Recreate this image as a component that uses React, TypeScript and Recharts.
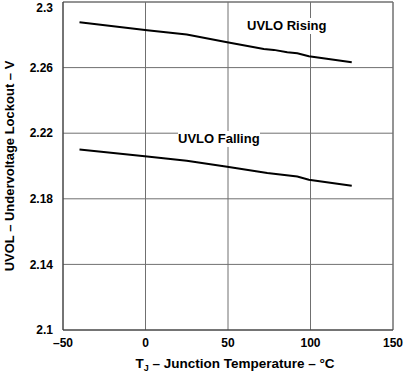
import React from "react";
import { LineChart, Line, XAxis, YAxis, CartesianGrid, ReferenceLine } from "recharts";

const risingTemp = [-40, 1, 25, 49.5, 71.7, 77.8, 85.9, 92, 99, 125];
const risingVolt = [2.2877, 2.2828, 2.2802, 2.2755, 2.2714, 2.2708, 2.2693, 2.2687, 2.2669, 2.2632];
const fallingTemp = [-40, 1, 25, 49.5, 73.8, 92, 99, 125];
const fallingVolt = [2.2101, 2.2058, 2.2032, 2.1995, 2.1957, 2.1936, 2.1916, 2.1879];
const xTicks = [-50, 0, 50, 100, 150];
const yTicks = [2.1, 2.14, 2.18, 2.22, 2.26, 2.3];
const yTickLabels = ["2.1", "2.14", "2.18", "2.22", "2.26", "2.3"];

const rising = risingTemp.map((t, i) => ({ t, v: risingVolt[i] }));
const falling = fallingTemp.map((t, i) => ({ t, v: fallingVolt[i] }));

const font = "'Liberation Sans', Arial, sans-serif";
const tickStyle = { fontFamily: font, fontWeight: 700, fontSize: 12, fill: "#000" };
const gridColor = "#707070";

const fmtX = (v: number) => (v < 0 ? "\u2013" + Math.abs(v) : String(v));
const fmtY = (v: number) => {
  const i = yTicks.findIndex((y) => Math.abs(y - v) < 1e-6);
  return i >= 0 ? yTickLabels[i] : String(v);
};

export default function App() {
  return (
    <div style={{ position: "absolute", left: 0, top: 0, width: 408, height: 372, fontFamily: font }}>
      <LineChart width={408} height={372} data={rising} margin={{ top: 2, right: 15, bottom: 0, left: 3 }}>
        <CartesianGrid stroke={gridColor} strokeWidth={1} />
        <XAxis
          type="number"
          dataKey="t"
          domain={[-50, 150]}
          ticks={xTicks}
          tickLine={false}
          axisLine={{ stroke: "#333" }}
          tick={tickStyle}
          tickFormatter={fmtX}
          tickMargin={2}
          height={42}
        />
        <YAxis
          type="number"
          dataKey="v"
          domain={[2.1, 2.3]}
          ticks={yTicks}
          tickLine={false}
          axisLine={{ stroke: "#333" }}
          tick={tickStyle}
          tickFormatter={fmtY}
          tickMargin={4}
          width={60}
        />
        <ReferenceLine y={2.3} stroke={gridColor} />
        <ReferenceLine x={150} stroke={gridColor} />
        <Line dataKey="v" type="linear" stroke="#000" strokeWidth={2} dot={false} isAnimationActive={false} />
        <Line data={falling} dataKey="v" type="linear" stroke="#000" strokeWidth={2} dot={false} isAnimationActive={false} />
      </LineChart>
      <div style={{ position: "absolute", left: 247, top: 18, fontSize: 13, fontWeight: 700, background: "#fff", lineHeight: "16px", whiteSpace: "nowrap" }}>UVLO Rising</div>
      <div style={{ position: "absolute", left: 178, top: 131, fontSize: 13, fontWeight: 700, background: "#fff", lineHeight: "16px", whiteSpace: "nowrap" }}>UVLO Falling</div>
      <div style={{ position: "absolute", left: 235, top: 356, transform: "translateX(-50%)", fontSize: 13.5, fontWeight: 700, whiteSpace: "nowrap", lineHeight: "16px" }}>
        T<sub style={{ fontSize: 9, verticalAlign: "-3px", lineHeight: "9px" }}>J</sub> – Junction Temperature – °C
      </div>
      <div style={{ position: "absolute", left: 10, top: 166, transform: "translate(-50%, -50%) rotate(-90deg)", fontSize: 13, fontWeight: 700, whiteSpace: "nowrap", lineHeight: "16px" }}>
        UVOL – Undervoltage Lockout – V
      </div>
    </div>
  );
}
